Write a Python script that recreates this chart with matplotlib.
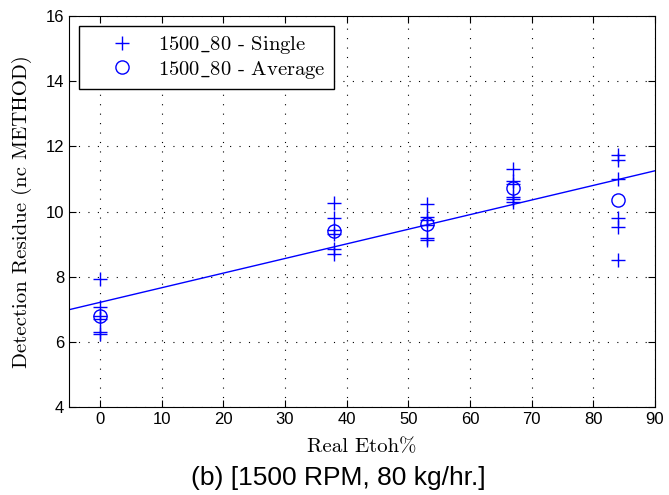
import numpy as np
import matplotlib
matplotlib.use("Agg")
import matplotlib.pyplot as plt

# Single measurements (x = real EtOH %, y = detection residue)
single_x = [0, 0, 0, 0, 0, 0,
            38, 38, 38, 38, 38, 38,
            53, 53, 53, 53, 53, 53,
            67, 67, 67, 67, 67, 67,
            84, 84, 84, 84, 84, 84]
single_y = [7.93, 7.08, 6.78, 6.70, 6.30, 6.25,
            10.27, 9.79, 9.42, 9.30, 8.85, 8.70,
            10.22, 9.84, 9.75, 9.60, 9.20, 9.13,
            11.31, 10.94, 10.85, 10.46, 10.38, 10.30,
            11.74, 11.58, 10.99, 9.79, 9.52, 8.51]

# Averages
avg_x = [0, 38, 53, 67, 84]
avg_y = [6.78, 9.40, 9.62, 10.71, 10.36]

xticks = [0, 10, 20, 30, 40, 50, 60, 70, 80, 90]
yticks = [4, 6, 8, 10, 12, 14, 16]

serif = ['cmr10', 'DejaVu Serif']
plt.rcParams['font.family'] = ['Liberation Sans', 'DejaVu Sans']
plt.rcParams['axes.unicode_minus'] = False
plt.rcParams['mathtext.fontset'] = 'cm'

fig = plt.figure(figsize=(6.69, 4.95), dpi=100)
ax = fig.add_axes([69 / 669, 1 - 407 / 495, (655 - 69) / 669, (407 - 16) / 495])

# linear fit over single points
p = np.polyfit(single_x, single_y, 1)
xl = np.array([-5, 90])
ax.plot(xl, np.polyval(p, xl), color='blue', lw=1)

ax.plot(single_x, single_y, '+', color='blue', ms=9.5, mew=1,
        label=r'1500$\_$80 - Single')
ax.plot(avg_x, avg_y, 'o', mfc='none', mec='blue', ms=9.5, mew=1,
        label=r'1500$\_$80 - Average')

ax.set_xlim(-5, 90)
ax.set_ylim(4, 16)
ax.set_xticks(xticks)
ax.set_yticks(yticks)
ax.tick_params(direction='in', top=True, right=True, labelsize=12, length=5)
ax.grid(True, color='black', linestyle=(0, (1, 7.5)), linewidth=0.8)

ax.set_xlabel('Real Etoh%', family=serif, fontsize=15, labelpad=8)
ax.set_ylabel('Detection Residue (nc METHOD)', family=serif, fontsize=15, labelpad=10)

leg = ax.legend(loc='upper left', prop={'family': serif, 'size': 14.8},
                fancybox=False, edgecolor='black', framealpha=1,
                borderaxespad=0.5, handletextpad=0.05, borderpad=0.4,
                labelspacing=0.1, handlelength=3.4)
leg.get_frame().set_linewidth(1)

fig.text(338 / 669, 1 - 478 / 495, '(b) [1500 RPM, 80 kg/hr.]',
         ha='center', va='center', fontsize=19)

fig.savefig('out.png', dpi=100)
